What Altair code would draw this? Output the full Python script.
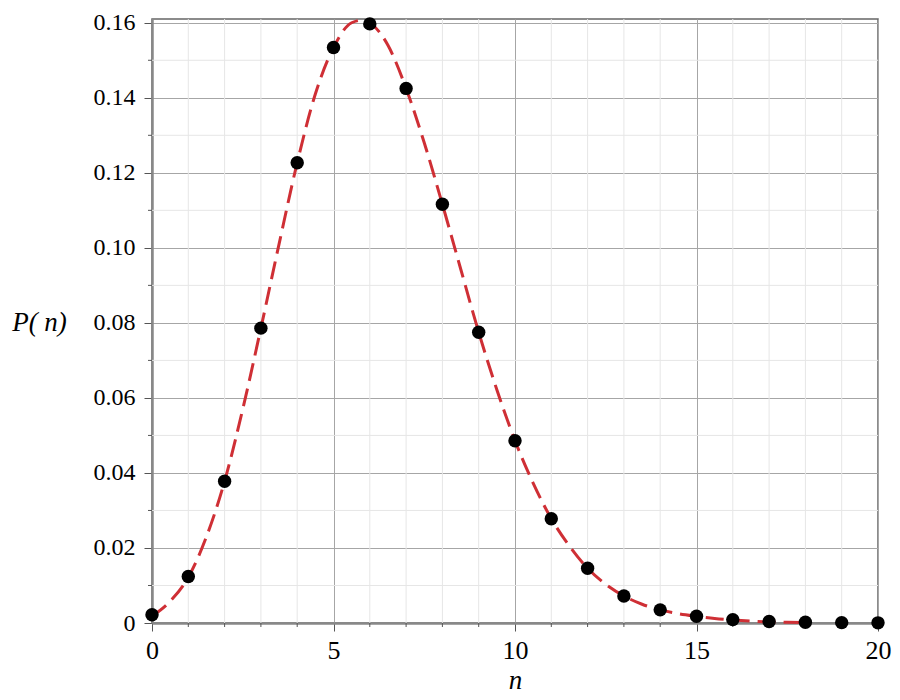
import altair as alt
import pandas as pd

# discrete distribution values
n_points = list(range(21))
p_points = [0.0022, 0.0124, 0.0378, 0.0786, 0.1227, 0.1534, 0.1597, 0.1425,
            0.1116, 0.0775, 0.0486, 0.0278, 0.0146, 0.0072, 0.0035, 0.0018,
            0.0009, 0.0004, 0.0002, 0.0001, 0.00004]

# dashed curve, read at half steps
curve_n = [0, 0.5, 1, 1.5, 2, 2.5, 3, 3.5, 4, 4.5, 5, 5.5, 5.8, 6, 6.5, 7, 7.5,
           8, 8.5, 9, 9.5, 10, 10.5, 11, 11.5, 12, 12.5, 13, 13.5, 14, 14.5,
           15, 15.5, 16, 16.5, 17, 17.5, 18]
curve_p = [0.0018, 0.0058, 0.0122, 0.0230, 0.0378, 0.0570, 0.0786, 0.1010,
           0.1227, 0.1410, 0.1534, 0.1600, 0.1607, 0.1600, 0.1540, 0.1425,
           0.1280, 0.1116, 0.0945, 0.0775, 0.0622, 0.0486, 0.0373, 0.0278,
           0.0205, 0.0146, 0.0103, 0.0072, 0.0050, 0.0035, 0.0025, 0.0018,
           0.0012, 0.0008, 0.0005, 0.0003, 0.0002, 0.0001]

x_ticks = [0, 5, 10, 15, 20]
x_minor = [1, 2, 3, 4, 6, 7, 8, 9, 11, 12, 13, 14, 16, 17, 18, 19]
y_ticks = [0, 0.02, 0.04, 0.06, 0.08, 0.10, 0.12, 0.14, 0.16]
y_minor = [0.01, 0.03, 0.05, 0.07, 0.09, 0.11, 0.13, 0.15]

pts = pd.DataFrame({"n": n_points, "p": p_points})
curve = pd.DataFrame({"n": curve_n, "p": curve_p})
xm = pd.DataFrame({"n": x_minor})
ym = pd.DataFrame({"p": y_minor})

FONT = "Liberation Serif"
W, H = 726, 604
xs = alt.Scale(domain=[0, 20], nice=False, zero=False)
ys = alt.Scale(domain=[0, 0.161], nice=False, zero=False)

x_axis = alt.Axis(values=x_ticks, title="n", titleFont=FONT, titleFontSize=27,
                  titleFontStyle="italic", titleFontWeight="normal", titleColor="black",
                  titlePadding=4, labelFont=FONT, labelFontSize=26, labelColor="black",
                  labelPadding=6, tickSize=8, tickColor="#555555", tickWidth=1,
                  domainColor="#888888", domainWidth=2.5, grid=True,
                  gridColor="#a6a6a6", gridWidth=1, labelFlush=False)
y_axis = alt.Axis(values=y_ticks, title="P( n)", titleFont=FONT, titleFontSize=27,
                  titleFontStyle="italic", titleFontWeight="normal", titleColor="black",
                  titleAngle=0, titleX=-113, titleY=303, titleAlign="center",
                  titleBaseline="middle",
                  labelExpr="datum.value == 0 ? '0' : format(datum.value, '.2f')",
                  labelFont=FONT, labelFontSize=24, labelColor="black", labelPadding=9,
                  tickSize=8, tickColor="#555555", tickWidth=1,
                  domainColor="#888888", domainWidth=2.5, grid=True,
                  gridColor="#a6a6a6", gridWidth=1, labelFlush=False)

X = alt.X("n:Q", scale=xs, axis=x_axis)
Y = alt.Y("p:Q", scale=ys, axis=y_axis)

xgrid = alt.Chart(xm).mark_rule(color="#e6e6e6", strokeWidth=1).encode(x=X)
ygrid = alt.Chart(ym).mark_rule(color="#e6e6e6", strokeWidth=1).encode(y=Y)
xtick = alt.Chart(xm).mark_rule(color="#555555", strokeWidth=1, clip=False).encode(
    x=X, y=alt.value(H), y2=alt.value(H + 4))
ytick = alt.Chart(ym).mark_rule(color="#555555", strokeWidth=1, clip=False).encode(
    y=Y, x=alt.value(-4), x2=alt.value(0))

line = alt.Chart(curve).mark_line(color="#cf2f35", strokeWidth=3,
                                  strokeDash=[18, 8], interpolate="monotone").encode(x=X, y=Y)
dots = alt.Chart(pts).mark_circle(color="black", size=180, opacity=1).encode(x=X, y=Y)

chart = alt.layer(xgrid, ygrid, xtick, ytick, line, dots).properties(
    width=W, height=H,
    autosize=alt.AutoSizeParams(type="none"),
    padding={"left": 144, "top": 11, "right": 14, "bottom": 77},
    background="white",
).configure_view(stroke="#666666", strokeWidth=1.5)

chart.save("out.html", embed_options={"renderer": "svg", "actions": False})
